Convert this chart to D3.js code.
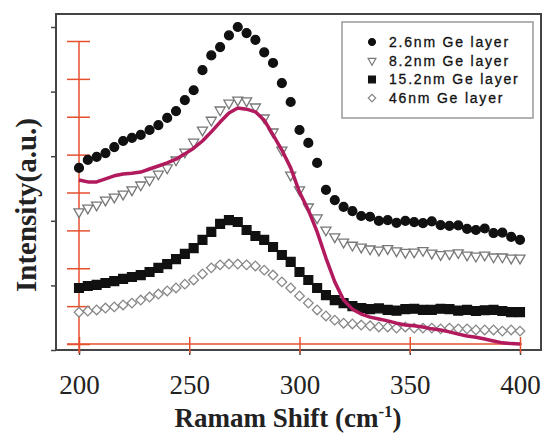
<!DOCTYPE html>
<html>
<head>
<meta charset="utf-8">
<script src="https://cdn.jsdelivr.net/npm/d3@7"></script>
<style>
  body { margin: 0; background: #fff; }
  svg { display: block; }
</style>
</head>
<body>
<div id="chart"></div>
<script>
// Raman shift (cm-1) shared by every series
var shift = [200, 204, 208, 212, 216, 220, 224, 228, 232, 236, 240, 244, 248, 252, 256, 260, 264, 268, 272, 276,
  280, 284, 288, 292, 296, 300, 304, 308, 312, 316, 320, 324, 328, 332, 336, 340, 344, 348, 352, 356,
  360, 364, 368, 372, 376, 380, 384, 388, 392, 396, 400];

var seriesNames = ["2.6nm Ge layer", "8.2nm Ge layer", "15.2nm Ge layer", "46nm Ge layer"];

// intensities (a.u.)
var ge26 = [4.65, 4.86, 4.94, 5.04, 5.20, 5.36, 5.44, 5.52, 5.65, 5.78, 5.97, 6.15, 6.44, 6.70, 7.23, 7.62, 7.84, 8.15, 8.37, 8.21,
  8.03, 7.70, 7.42, 6.89, 6.39, 5.65, 5.31, 4.78, 4.07, 3.80, 3.62, 3.51, 3.38, 3.36, 3.25, 3.27, 3.20, 3.25, 3.22, 3.19,
  3.24, 3.14, 3.12, 3.13, 3.04, 3.01, 3.05, 2.93, 2.94, 2.83, 2.75];
var ge82 = [3.49, 3.59, 3.67, 3.80, 3.88, 3.96, 4.07, 4.20, 4.33, 4.49, 4.65, 4.86, 5.07, 5.33, 5.65, 5.91, 6.18, 6.36, 6.44, 6.42,
  6.26, 5.97, 5.60, 5.12, 4.46, 4.07, 3.62, 3.33, 3.01, 2.83, 2.69, 2.61, 2.56, 2.51, 2.48, 2.52, 2.46, 2.42, 2.43, 2.47,
  2.40, 2.36, 2.38, 2.41, 2.35, 2.32, 2.35, 2.30, 2.30, 2.27, 2.27];
var ge152 = [1.48, 1.53, 1.56, 1.61, 1.66, 1.72, 1.77, 1.82, 1.90, 2.01, 2.11, 2.24, 2.38, 2.53, 2.75, 2.96, 3.17, 3.27, 3.22, 3.01,
  2.85, 2.75, 2.56, 2.35, 2.17, 1.90, 1.69, 1.48, 1.29, 1.16, 1.08, 1.00, 0.95, 0.92, 0.94, 0.90, 0.88, 0.92, 0.93, 0.90,
  0.90, 0.93, 0.92, 0.88, 0.90, 0.87, 0.89, 0.90, 0.87, 0.84, 0.84];
var ge46 = [0.84, 0.87, 0.90, 0.95, 0.98, 1.03, 1.08, 1.16, 1.24, 1.32, 1.40, 1.48, 1.58, 1.69, 1.85, 2.01, 2.09, 2.11, 2.11, 2.09,
  2.06, 1.95, 1.82, 1.64, 1.48, 1.27, 1.08, 0.90, 0.74, 0.63, 0.55, 0.53, 0.50, 0.48, 0.45, 0.45, 0.42, 0.45, 0.42, 0.42,
  0.42, 0.40, 0.42, 0.40, 0.40, 0.37, 0.37, 0.37, 0.34, 0.37, 0.34];
// magenta curve
var fitLine = [4.33, 4.28, 4.28, 4.36, 4.44, 4.49, 4.51, 4.54, 4.62, 4.70, 4.78, 4.88, 5.02, 5.17, 5.36, 5.60, 5.86, 6.10, 6.23, 6.20,
  6.13, 5.91, 5.52, 5.12, 4.65, 4.01, 3.54, 2.96, 2.27, 1.64, 1.16, 0.92, 0.79, 0.71, 0.66, 0.61, 0.55, 0.50, 0.48, 0.45,
  0.40, 0.37, 0.32, 0.26, 0.21, 0.18, 0.13, 0.08, 0.03, 0.01, 0.00];

var xTicks = [200, 250, 300, 350, 400];
var redYTicks = [0, 1, 2, 3, 4, 5, 6, 7, 8];
var frameYTicks = [0, 1, 2, 3, 4, 5];

var width = 544, height = 435;
var svg = d3.select("#chart").append("svg").attr("width", width).attr("height", height);

var x = d3.scaleLinear().domain([200, 400]).range([79, 520]);
var y = d3.scaleLinear().domain([0, 8]).range([344, 41]);
var yFrame = d3.scaleLinear().domain([0, 5]).range([350, 27]);

var red = "#e5502f";

// frame
svg.append("rect")
    .attr("x", 56).attr("y", 14).attr("width", 485).attr("height", 336)
    .attr("fill", "none").attr("stroke", "#444").attr("stroke-width", 2);

// black axes on frame
var bx = svg.append("g").attr("transform", "translate(0,350)")
    .call(d3.axisBottom(x).tickValues(xTicks).tickSize(5).tickPadding(20).tickFormat(d3.format("d")));
bx.select(".domain").remove();
bx.selectAll("line").attr("stroke", "#444").attr("stroke-width", 1.5);
bx.selectAll("text").attr("font-family", "'Liberation Serif', 'Times New Roman', serif")
    .attr("font-size", 27).attr("fill", "#222");

var by = svg.append("g").attr("transform", "translate(56,0)")
    .call(d3.axisLeft(yFrame).tickValues(frameYTicks).tickSize(5).tickFormat(""));
by.select(".domain").remove();
by.selectAll("line").attr("stroke", "#444").attr("stroke-width", 1.5);

// red axes
var ry = svg.append("g").attr("transform", "translate(" + x(200) + ",0)")
    .call(d3.axisLeft(y).tickValues(redYTicks).tickFormat(""));
ry.select(".domain").remove();
ry.selectAll(".tick line").attr("x1", -12).attr("x2", 11).attr("stroke", red).attr("stroke-width", 1.5);
ry.append("line").attr("x1", 0).attr("x2", 0).attr("y1", y(8)).attr("y2", 353)
    .attr("stroke", red).attr("stroke-width", 1.5);

var rx = svg.append("g").attr("transform", "translate(0," + y(0) + ")")
    .call(d3.axisBottom(x).tickValues(xTicks).tickFormat(""));
rx.select(".domain").remove();
rx.selectAll(".tick line").attr("y1", -7).attr("y2", 9).attr("stroke", red).attr("stroke-width", 1.5);
rx.append("line").attr("x1", x(200) - 12).attr("x2", x(400) + 2).attr("y1", 0).attr("y2", 0)
    .attr("stroke", red).attr("stroke-width", 1.5);

// series
var styles = [
  { data: ge26, symbol: d3.symbolCircle, size: 62, rot: 0, fill: "#111", stroke: "#111" },
  { data: ge82, symbol: d3.symbolTriangle, size: 44, rot: 180, fill: "#fff", stroke: "#777" },
  { data: ge152, symbol: d3.symbolSquare, size: 78, rot: 0, fill: "#111", stroke: "#111" },
  { data: ge46, symbol: d3.symbolSquare, size: 46, rot: 45, fill: "#fff", stroke: "#888" }
];

styles.forEach(function (s, i) {
    var sym = d3.symbol().type(s.symbol).size(s.size);
    svg.append("g").attr("class", "series-" + i)
      .selectAll("path")
      .data(s.data)
      .enter().append("path")
        .attr("d", sym)
        .attr("transform", function (d, j) {
            return "translate(" + x(shift[j]) + "," + y(d) + ") rotate(" + s.rot + ")";
        })
        .attr("fill", s.fill)
        .attr("stroke", s.stroke)
        .attr("stroke-width", 1.3);
});

var line = d3.line()
    .x(function (d, j) { return x(shift[j]); })
    .y(function (d) { return y(d); });

svg.append("path")
    .datum(fitLine)
    .attr("d", line)
    .attr("fill", "none")
    .attr("stroke", "#b21a5e")
    .attr("stroke-width", 3.5)
    .attr("stroke-linejoin", "round");

// legend
var legend = svg.append("g").attr("transform", "translate(342,22)");
legend.append("rect").attr("width", 191).attr("height", 96)
    .attr("fill", "#fff").attr("stroke", "#999").attr("stroke-width", 1.5);

var rows = legend.selectAll(".row")
    .data(seriesNames)
    .enter().append("g")
    .attr("class", "row")
    .attr("transform", function (d, i) { return "translate(0," + (20 + i * 18.7) + ")"; });

rows.append("path")
    .attr("d", function (d, i) { return d3.symbol().type(styles[i].symbol).size(styles[i].size * 0.6)(); })
    .attr("transform", function (d, i) { return "translate(30,0) rotate(" + styles[i].rot + ")"; })
    .attr("fill", function (d, i) { return styles[i].fill; })
    .attr("stroke", function (d, i) { return styles[i].stroke; })
    .attr("stroke-width", 1.2);

rows.append("text")
    .attr("x", 47).attr("y", 5)
    .attr("font-family", "'Liberation Sans', Arial, sans-serif")
    .attr("font-size", 14)
    .attr("letter-spacing", 1.8)
    .attr("fill", "#111")
    .attr("stroke", "#111")
    .attr("stroke-width", 0.3)
    .text(function (d) { return d; });

// axis titles
var xTitle = svg.append("text")
    .attr("x", 288).attr("y", 427)
    .attr("text-anchor", "middle")
    .attr("font-family", "'Liberation Serif', 'Times New Roman', serif")
    .attr("font-weight", "bold")
    .attr("font-size", 27)
    .attr("fill", "#222");
xTitle.append("tspan").text("Ramam Shift (cm");
xTitle.append("tspan").attr("font-size", 17).attr("dy", -10).text("-1");
xTitle.append("tspan").attr("dy", 10).text(")");

svg.append("text")
    .attr("transform", "translate(36,205) rotate(-90)")
    .attr("text-anchor", "middle")
    .attr("font-family", "'Liberation Serif', 'Times New Roman', serif")
    .attr("font-weight", "bold")
    .attr("font-size", 29)
    .attr("fill", "#222")
    .text("Intensity(a.u.)");
</script>
</body>
</html>
